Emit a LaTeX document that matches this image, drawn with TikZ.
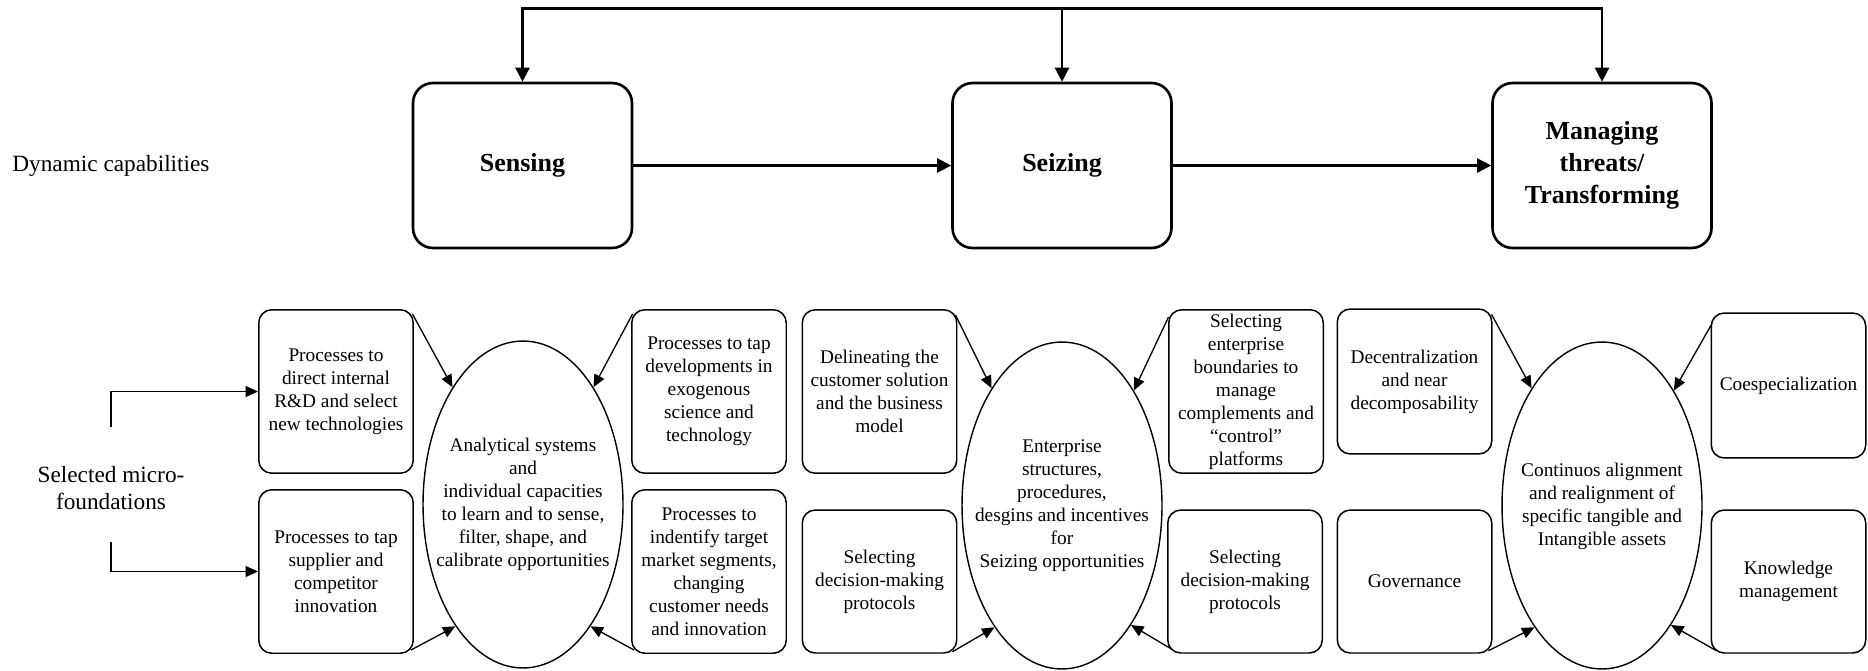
\documentclass[tikz,border=0pt]{standalone}
\usepackage{fontspec}
\setmainfont{Liberation Serif}
\usetikzlibrary{arrows.meta,shapes.geometric,calc}

\begin{document}
\begin{tikzpicture}[x=0.02cm,y=-0.02cm,
  capbox/.style={draw, line width=1.5pt, rounded corners=0.4cm,
    minimum width=4.38cm, minimum height=3.3cm, align=center, inner sep=0pt,
    font=\fontsize{14.8}{18.2}\selectfont\bfseries},
  mfbox/.style={draw, line width=0.85pt, rounded corners=0.26cm,
    minimum width=3.09cm, align=center, inner sep=1pt,
    font=\fontsize{11}{13.1}\selectfont},
  tallbox/.style={minimum height=3.27cm},
  lowbox/.style={minimum height=2.86cm},
  midbox/.style={minimum height=2.9cm},
  oval/.style={draw, ellipse, line width=0.8pt, minimum width=4cm,
    minimum height=6.54cm, inner sep=0pt},
  ovaltext/.style={align=center, inner sep=0pt, font=\fontsize{11}{13.1}\selectfont},
  sidetext/.style={align=center, inner sep=0pt, font=\fontsize{13.25}{15.4}\selectfont},
  bigarrow/.style={line width=1.3pt, line cap=rect, -{Triangle[length=0.28cm,width=0.28cm]}},
  smallarrow/.style={line width=0.75pt, -{Triangle[length=0.25cm,width=0.22cm]}},
]
\useasboundingbox (0,0) rectangle (1868,670);

% ---- dynamic capabilities row ----
\node[sidetext, anchor=west] (dyncap) at (12,166) {Dynamic capabilities};

\node[capbox] (sense)  at (522.5,165.5) {Sensing};
\node[capbox] (seize)  at (1062,165.5)  {Seizing};
\node[capbox] (manage) at (1602,165.5)  {Managing\\threats/\\Transforming};

\draw[bigarrow] (sense.east) -- (seize.west);
\draw[bigarrow] (seize.east) -- (manage.west);

% feedback loop along the top
\coordinate (loopY) at (0,8.5);
\draw[bigarrow] (manage.north |- loopY) -- (sense.north |- loopY) -- (sense.north);
\draw[bigarrow] (seize.north |- loopY) -- (seize.north);
\draw[bigarrow] (manage.north |- loopY) -- (manage.north);

% ---- micro-foundations label ----
\node[sidetext] (mf) at (111,488) {Selected micro-\\foundations};
\coordinate (mfTop) at (111,427);
\coordinate (mfBot) at (111,542);

% ---- sensing cluster ----
\node[mfbox, tallbox] (b1) at (336,391.5) {Processes to\\direct internal\\R\&D and select\\new technologies};
\node[mfbox, tallbox] (b2) at (336,571.5) {Processes to tap\\supplier and\\competitor\\innovation};
\node[oval] (e1) at (523,504.5) {};
\node[ovaltext] (t1) at (e1.center) {Analytical systems\\and\\individual capacities\\to learn and to sense,\\filter, shape, and\\calibrate opportunities};
\node[mfbox, tallbox] (b3) at (709,391.5) {Processes to tap\\developments in\\exogenous\\science and\\technology};
\node[mfbox, tallbox] (b4) at (709,571.5) {Processes to\\indentify target\\market segments,\\changing\\customer needs\\and innovation};

\draw[smallarrow] (mfTop) |- (b1.west);
\draw[smallarrow] (mfBot) |- (b2.west);

\draw[smallarrow] ($(b1.north east)+(-1.5,5)$) -- (e1.121);
\draw[smallarrow] ($(b3.north west)+(1.5,5)$) -- (e1.59);
\draw[smallarrow] ($(b2.south east)+(-3,-4)$) -- (e1.241);
\draw[smallarrow] ($(b4.south west)+(3,-4)$) -- (e1.299);

% ---- seizing cluster ----
\node[mfbox, tallbox] (b5) at (879.5,391.5) {Delineating the\\customer solution\\and the business\\model};
\node[mfbox, lowbox] (b6) at (879.5,581.5) {Selecting\\decision-making\\protocols};
\node[oval] (e2) at (1062,505.5) {};
\node[ovaltext] (t2) at (e2.center) {Enterprise\\structures,\\procedures,\\desgins and incentives\\for\\Seizing opportunities};
\node[mfbox, tallbox] (b7) at (1246,391.5) {Selecting\\enterprise\\boundaries to\\manage\\complements and\\“control”\\platforms};
\node[mfbox, lowbox] (b8) at (1245,581.5) {Selecting\\decision-making\\protocols};

\draw[smallarrow] ($(b5.north east)+(-2,6)$) -- (e2.121);
\draw[smallarrow] ($(b7.north west)+(0.5,8)$) -- (e2.58);
\draw[smallarrow] ($(b6.south east)+(-5,-2)$) -- (e2.241);
\draw[smallarrow] ($(b8.south west)+(4,-5)$) -- (e2.300);

% ---- transforming cluster ----
\node[mfbox, midbox] (b9) at (1414.5,381.5) {Decentralization\\and near\\decomposability};
\node[mfbox, lowbox] (b10) at (1414.5,581.5) {Governance};
\node[oval] (e3) at (1602,505.5) {};
\node[ovaltext] (t3) at ($(e3.center)+(0,1)$) {Continuos alignment\\and realignment of\\specific tangible and\\Intangible assets};
\node[mfbox, midbox] (b11) at (1788.5,385.5) {Coespecialization};
\node[mfbox, lowbox] (b12) at (1788.5,581.5) {Knowledge\\management};

\draw[smallarrow] ($(b9.north east)+(-1,6)$) -- (e3.121);
\draw[smallarrow] ($(b11.north west)+(0.5,13)$) -- (e3.58);
\draw[smallarrow] ($(b10.south east)+(-4,-3)$) -- (e3.241);
\draw[smallarrow] ($(b12.south west)+(6,-3)$) -- (e3.300);
\end{tikzpicture}
\end{document}
